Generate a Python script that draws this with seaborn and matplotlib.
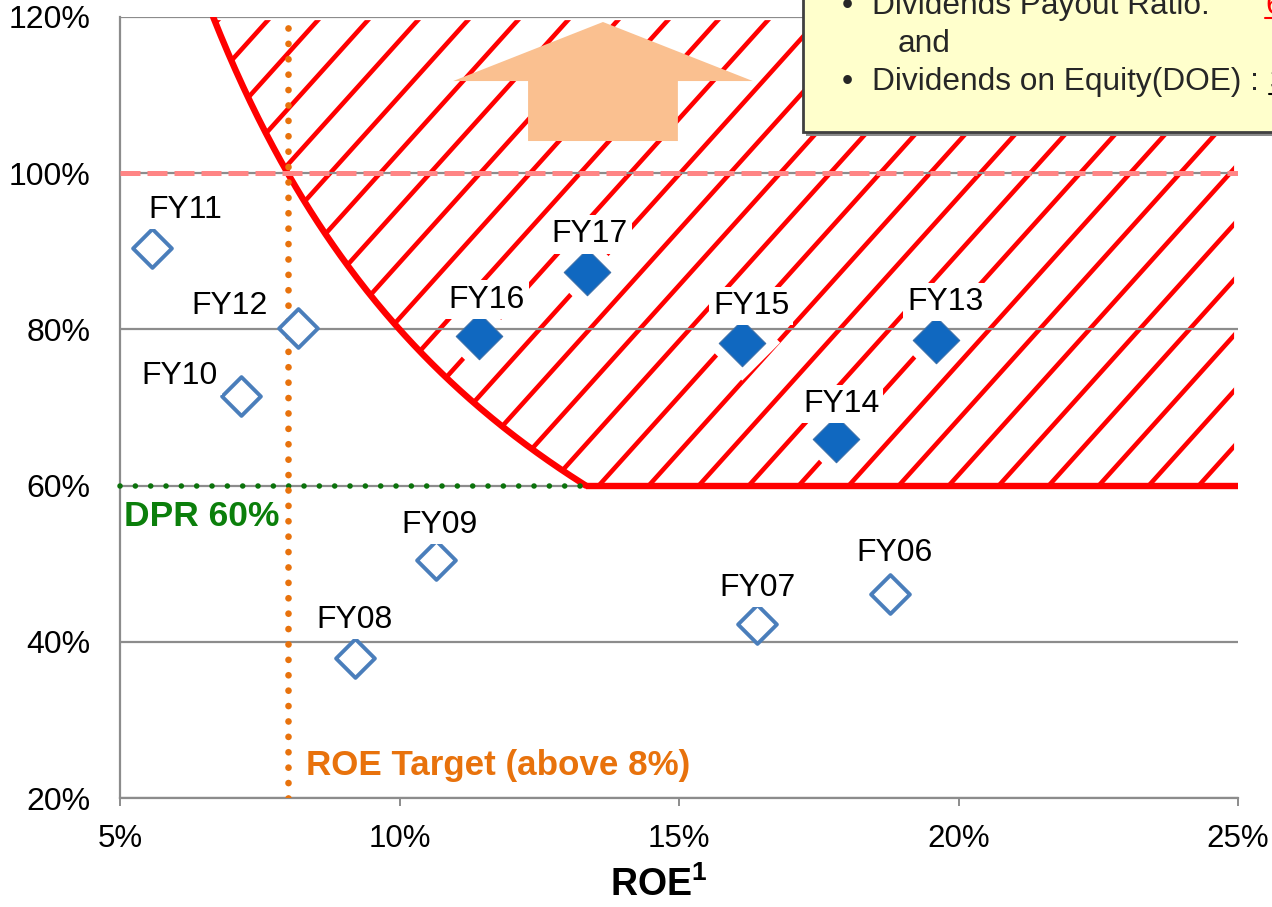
import numpy as np
import pandas as pd
import matplotlib
matplotlib.use("Agg")
import matplotlib.pyplot as plt
import seaborn as sns
from matplotlib.patches import Polygon, Rectangle
from matplotlib.lines import Line2D

# ---- data -----------------------------------------------------------------
fiscal_years = ["FY06", "FY07", "FY08", "FY09", "FY10", "FY11",
                "FY12", "FY13", "FY14", "FY15", "FY16", "FY17"]
roe = [18.77, 16.40, 9.20, 10.65, 7.16, 5.57, 8.18, 19.60, 17.81, 16.13, 11.42, 13.35]
payout_ratio = [46.1, 42.3, 37.9, 50.5, 71.5, 90.4, 80.2, 78.6, 66.0, 78.3, 79.2, 87.3]
recent_years = ["FY13", "FY14", "FY15", "FY16", "FY17"]

roe_target = 8.0      # ROE target (%)
dpr_target = 60.0     # dividend payout ratio floor (%)
doe_target = 8.0      # DOE = ROE x DPR  (%)

x_ticks = [5, 10, 15, 20, 25]
y_ticks = [20, 40, 60, 80, 100, 120]

# label placement (pixel offsets from each marker)
label_offsets = {
    "FY06": (5, -33), "FY07": (0, -28), "FY08": (0, -30), "FY09": (4, -27),
    "FY10": (-61, -12), "FY11": (33, -30), "FY12": (-68, -14), "FY13": (9, -30),
    "FY14": (5, -27), "FY15": (9, -29), "FY16": (8, -28), "FY17": (3, -30),
}

df = pd.DataFrame({"fy": fiscal_years, "roe": roe, "payout": payout_ratio})
df["recent"] = df["fy"].isin(recent_years)

# ---- style ----------------------------------------------------------------
sns.set_theme(style="white")
plt.rcParams["font.family"] = ["Liberation Sans", "DejaVu Sans"]
plt.rcParams["mathtext.fontset"] = "custom"
plt.rcParams["mathtext.rm"] = "Liberation Sans"
plt.rcParams["mathtext.bf"] = "Liberation Sans:bold"

FW, FH = 1272, 907
fig = plt.figure(figsize=(FW / 100, FH / 100), dpi=100)
fig.patch.set_facecolor("white")
AX_L, AX_R, AX_T, AX_B = 120, 1238, 17, 798
ax = fig.add_axes([AX_L / FW, 1 - AX_B / FH, (AX_R - AX_L) / FW, (AX_B - AX_T) / FH])
ax.set_facecolor("white")
ax.set_xlim(5, 25)
ax.set_ylim(20, 120)

GRID = "#8c8c8c"
RED = "#FF0000"

# ---- target zone: payout >= max(DPR floor, DOE / ROE) -----------------------
ymax_zone = 119.6
curve_roe = np.linspace(doe_target * 100 / 120, doe_target * 100 / dpr_target, 200)
curve_payout = doe_target * 100 / curve_roe
zone_roe = np.linspace(doe_target * 100 / ymax_zone, doe_target * 100 / dpr_target, 200)
zone_vertices = np.vstack([
    np.column_stack([zone_roe, doe_target * 100 / zone_roe]),
    [[24.93, dpr_target], [24.93, ymax_zone]],
])
zone = Polygon(zone_vertices, closed=True, transform=ax.transData,
               facecolor="none", edgecolor="none")

# diagonal hatching of the zone
w_px, h_px = AX_R - AX_L, AX_B - AX_T
hatch_angle = np.deg2rad(48)
hatch_step = 50
hatch_phase = 797.5
run = h_px / np.tan(hatch_angle)
for c in np.arange(hatch_phase - 40 * hatch_step, w_px + hatch_step, hatch_step):
    ln, = ax.plot([c / w_px, (c + run) / w_px], [0, 1], transform=ax.transAxes,
                  color=RED, lw=3.3, solid_capstyle="butt", zorder=1)
    ln.set_clip_path(zone)

# zone boundary
sns.lineplot(x=curve_roe, y=curve_payout, ax=ax, color=RED, lw=4.6,
             sort=False, estimator=None, zorder=2.6)
ax.plot([doe_target * 100 / dpr_target, 25], [dpr_target, dpr_target],
        color=RED, lw=4.6, solid_capstyle="butt", zorder=2.6)

# payout 100% reference
ax.axhline(100, color="#FF8585", lw=3.6, linestyle=(0, (4.0, 1.4)), zorder=2.7)

# DPR 60% floor up to the zone corner
ax.plot([5, doe_target * 100 / dpr_target], [dpr_target, dpr_target],
        color="#0B720B", lw=4.0, linestyle=(0, (0.01, 2.75)),
        dash_capstyle="round", zorder=2.8, clip_on=False)
# ROE target
ax.axvline(roe_target, color="#E8720C", lw=4.8, linestyle=(0, (0.01, 2.3)),
           dash_capstyle="round", zorder=2.9)

ax.annotate("DPR 60%", xy=(5, dpr_target), xytext=(4, -40), textcoords="offset pixels",
            ha="left", va="baseline", fontsize=25.5, fontweight="bold",
            color="#0B7F0B", zorder=4)
ax.annotate("ROE Target (above 8%)", xy=(roe_target, 20), xytext=(18, 23),
            textcoords="offset pixels", ha="left", va="baseline", fontsize=25.2,
            fontweight="bold", color="#E8720C", zorder=4)

# ---- upward arrow -------------------------------------------------------------
arrow_shape = [(13.64, 119.36), (16.32, 111.8), (14.98, 111.8), (14.98, 104.12),
               (12.30, 104.12), (12.30, 111.8), (10.96, 111.8)]
ax.add_patch(Polygon(arrow_shape, closed=True, facecolor="#FAC090",
                     edgecolor="none", zorder=3.5))

# ---- fiscal-year points -----------------------------------------------------
recent = df[df["recent"]]
past = df[~df["recent"]]
sns.scatterplot(data=recent, x="roe", y="payout", marker="D", s=1500,
                color="white", edgecolor="none", linewidth=0, ax=ax, zorder=1.5,
                legend=False)
sns.scatterplot(data=past, x="roe", y="payout", marker="D", s=390,
                color="white", edgecolor="#4A7EBB", linewidth=2.8, ax=ax,
                zorder=3, legend=False)
sns.scatterplot(data=recent, x="roe", y="payout", marker="D", s=560,
                color="#1068C0", edgecolor="#3B6FA8", linewidth=0.8, ax=ax,
                zorder=3, legend=False)

for fy, x, y in zip(df["fy"], df["roe"], df["payout"]):
    dx, dy = label_offsets[fy]
    ax.annotate(fy, xy=(x, y), xytext=(dx, -dy), textcoords="offset pixels",
                ha="center", va="baseline", fontsize=23, color="black",
                bbox=dict(facecolor="white", edgecolor="none", pad=3), zorder=4)

# ---- grid and axes ------------------------------------------------------------
ax.set_xticks(x_ticks)
ax.set_yticks(y_ticks)
ax.set_xticklabels([f"{v}%" for v in x_ticks])
ax.set_yticklabels([f"{v}%" for v in y_ticks])
ax.set_axisbelow(False)
ax.yaxis.grid(True, color=GRID, lw=1.6)
ax.xaxis.grid(False)
for side in ("top", "right"):
    ax.spines[side].set_visible(False)
for side in ("left", "bottom"):
    ax.spines[side].set_color(GRID)
    ax.spines[side].set_linewidth(1.6)
ax.tick_params(axis="x", which="major", direction="out", length=5.5, width=1.4,
               color=GRID, labelsize=22.5, pad=13, bottom=True)
ax.tick_params(axis="y", which="major", length=0, labelsize=23, pad=21)
for lab in ax.get_xticklabels() + ax.get_yticklabels():
    lab.set_color("black")

ax.set_xlabel(r"ROE$^{\mathbf{1}}$", fontsize=27, fontweight="bold", color="black")
ax.xaxis.set_label_coords((659 - AX_L) / w_px, -0.088)
ax.set_ylabel("")


# ---- policy call-out box ------------------------------------------------------
def fx(px):
    return px / FW


def fy_(py):
    return 1 - py / FH


box_l, box_r, box_t, box_b = 803, 1300, -20, 132
fig.add_artist(Rectangle((fx(box_l + 3), fy_(box_b + 4)), fx(box_r - box_l),
                         (box_b - box_t) / FH, transform=fig.transFigure,
                         facecolor="#8a8a8a", edgecolor="none", zorder=5))
fig.add_artist(Rectangle((fx(box_l), fy_(box_b)), fx(box_r - box_l),
                         (box_b - box_t) / FH, transform=fig.transFigure,
                         facecolor="#FFFFCC", edgecolor="#404040", lw=2.0, zorder=6))

box_font = 22.8
fig.text(fx(842), fy_(14), "\u2022", fontsize=box_font, va="baseline", zorder=7)
fig.text(fx(872), fy_(14), "Dividends Payout Ratio:", fontsize=box_font,
         va="baseline", zorder=7)
fig.text(fx(898), fy_(52), "and", fontsize=box_font, va="baseline", zorder=7)
fig.text(fx(842), fy_(90), "\u2022", fontsize=box_font, va="baseline", zorder=7)
fig.text(fx(872), fy_(90), "Dividends on Equity(DOE) :", fontsize=box_font,
         va="baseline", zorder=7)
fig.text(fx(1265), fy_(14), "60%", fontsize=box_font, va="baseline",
         color=RED, zorder=7)
fig.add_artist(Line2D([fx(1265), fx(1330)], [fy_(18), fy_(18)], transform=fig.transFigure,
                      color=RED, lw=1.5, zorder=7))
fig.text(fx(1270), fy_(90), "3%", fontsize=box_font, va="baseline",
         color="black", zorder=7)
fig.add_artist(Line2D([fx(1269), fx(1330)], [fy_(94), fy_(94)], transform=fig.transFigure,
                      color="black", lw=1.5, zorder=7))

fig.savefig("out.png", dpi=100)
